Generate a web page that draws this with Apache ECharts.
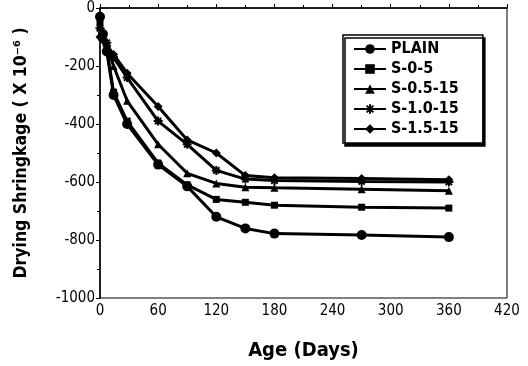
<!DOCTYPE html>
<html><head><meta charset="utf-8">
<script src="https://cdn.jsdelivr.net/npm/echarts@6/dist/echarts.min.js"></script>
<style>html,body{margin:0;padding:0;background:#fff}#c{width:528px;height:366px}</style>
</head><body><div id="c"></div>
<script>
const days = [0, 3, 7, 14, 28, 60, 90, 120, 150, 180, 270, 360];
const plain   = [-30, -90, -150, -300, -400, -540, -615, -720, -760, -778, -783, -790];
const s0_5    = [-50, -100, -140, -290, -390, -535, -610, -660, -670, -680, -687, -690];
const s05_15  = [-60, -100, -130, -200, -320, -470, -570, -605, -618, -620, -625, -630];
const s10_15  = [-70, -110, -120, -170, -240, -390, -470, -560, -590, -595, -598, -600];
const s15_15  = [-100, -110, -130, -160, -225, -340, -455, -500, -578, -585, -588, -592];
const names = ['PLAIN', 'S-0-5', 'S-0.5-15', 'S-1.0-15', 'S-1.5-15'];
const xTicks = [0, 60, 120, 180, 240, 300, 360, 420];
const yTicks = [0, -200, -400, -600, -800, -1000];

const FONT = '"Liberation Sans Narrow", "Arial Narrow", "DejaVu Sans Condensed", sans-serif';
const star = 'path://M0,-10 L0,10 M-10,0 L10,0 M-7,-7 L7,7 M-7,7 L7,-7';
const symbols = ['circle', 'rect', 'triangle', 'diamond', 'diamond'];
const sizes = [10, 7, 8, 5, 9];
const all = [plain, s0_5, s05_15, s10_15, s15_15];

const chart = echarts.init(document.getElementById('c'));
chart.setOption({
  animation: false,
  backgroundColor: '#fff',
  grid: { left: 100, right: 21, top: 8, bottom: 66, show: true, borderColor: '#000', borderWidth: 1 },
  legend: {
    orient: 'vertical', left: 343, top: 35,
    padding: [6, 24, 6, 10], itemGap: 4, itemWidth: 32, itemHeight: 12,
    backgroundColor: '#fff', borderColor: '#000', borderWidth: 1.5,
    shadowColor: '#000', shadowOffsetX: 2, shadowOffsetY: 3, shadowBlur: 0,
    textStyle: { fontFamily: FONT, fontSize: 16, color: '#000', fontWeight: 'bold' },
    data: names
  },
  xAxis: {
    type: 'value', min: 0, max: 420, interval: 60,
    name: 'Age (Days)', nameLocation: 'middle', nameGap: 43,
    nameTextStyle: { fontFamily: FONT, fontSize: 20, fontWeight: 'bold', color: '#000' },
    axisLine: { lineStyle: { color: '#000', width: 1.5 } },
    axisTick: { inside: true, length: 4, lineStyle: { color: '#000' } },
    minorTick: { show: true, splitNumber: 2, length: 3, lineStyle: { color: '#000' } },
    splitLine: { show: false },
    axisLabel: { fontFamily: FONT, fontSize: 15, color: '#000', margin: 6,
      formatter: v => xTicks.includes(v) ? String(v) : '' }
  },
  yAxis: {
    type: 'value', min: -1000, max: 0, interval: 200,
    name: 'Drying Shringkage ( X 10\u207B\u2076 )', nameLocation: 'middle', nameGap: 70, nameRotate: 90,
    nameTextStyle: { fontFamily: FONT, fontSize: 17.5, fontWeight: 'bold', color: '#000' },
    axisLine: { lineStyle: { color: '#000', width: 1.5 } },
    axisTick: { inside: false, length: 4, lineStyle: { color: '#000' } },
    minorTick: { show: true, splitNumber: 2, length: 3, lineStyle: { color: '#000' } },
    splitLine: { show: false },
    axisLabel: { fontFamily: FONT, fontSize: 15, color: '#000', margin: 5,
      formatter: v => yTicks.includes(v) ? String(v) : '' }
  },
  series: names.map((n, i) => ({
    name: n, type: 'line',
    data: days.map((d, j) => [d, all[i][j]]),
    symbol: i === 3 ? star : symbols[i],
    symbolSize: i === 3 ? 9 : sizes[i],
    showAllSymbol: true,
    lineStyle: { color: '#000', width: 3 },
    itemStyle: { color: '#000', borderColor: '#000', borderWidth: i === 3 ? 2 : 0 },
    z: 2 + i
  }))
});
</script></body></html>
